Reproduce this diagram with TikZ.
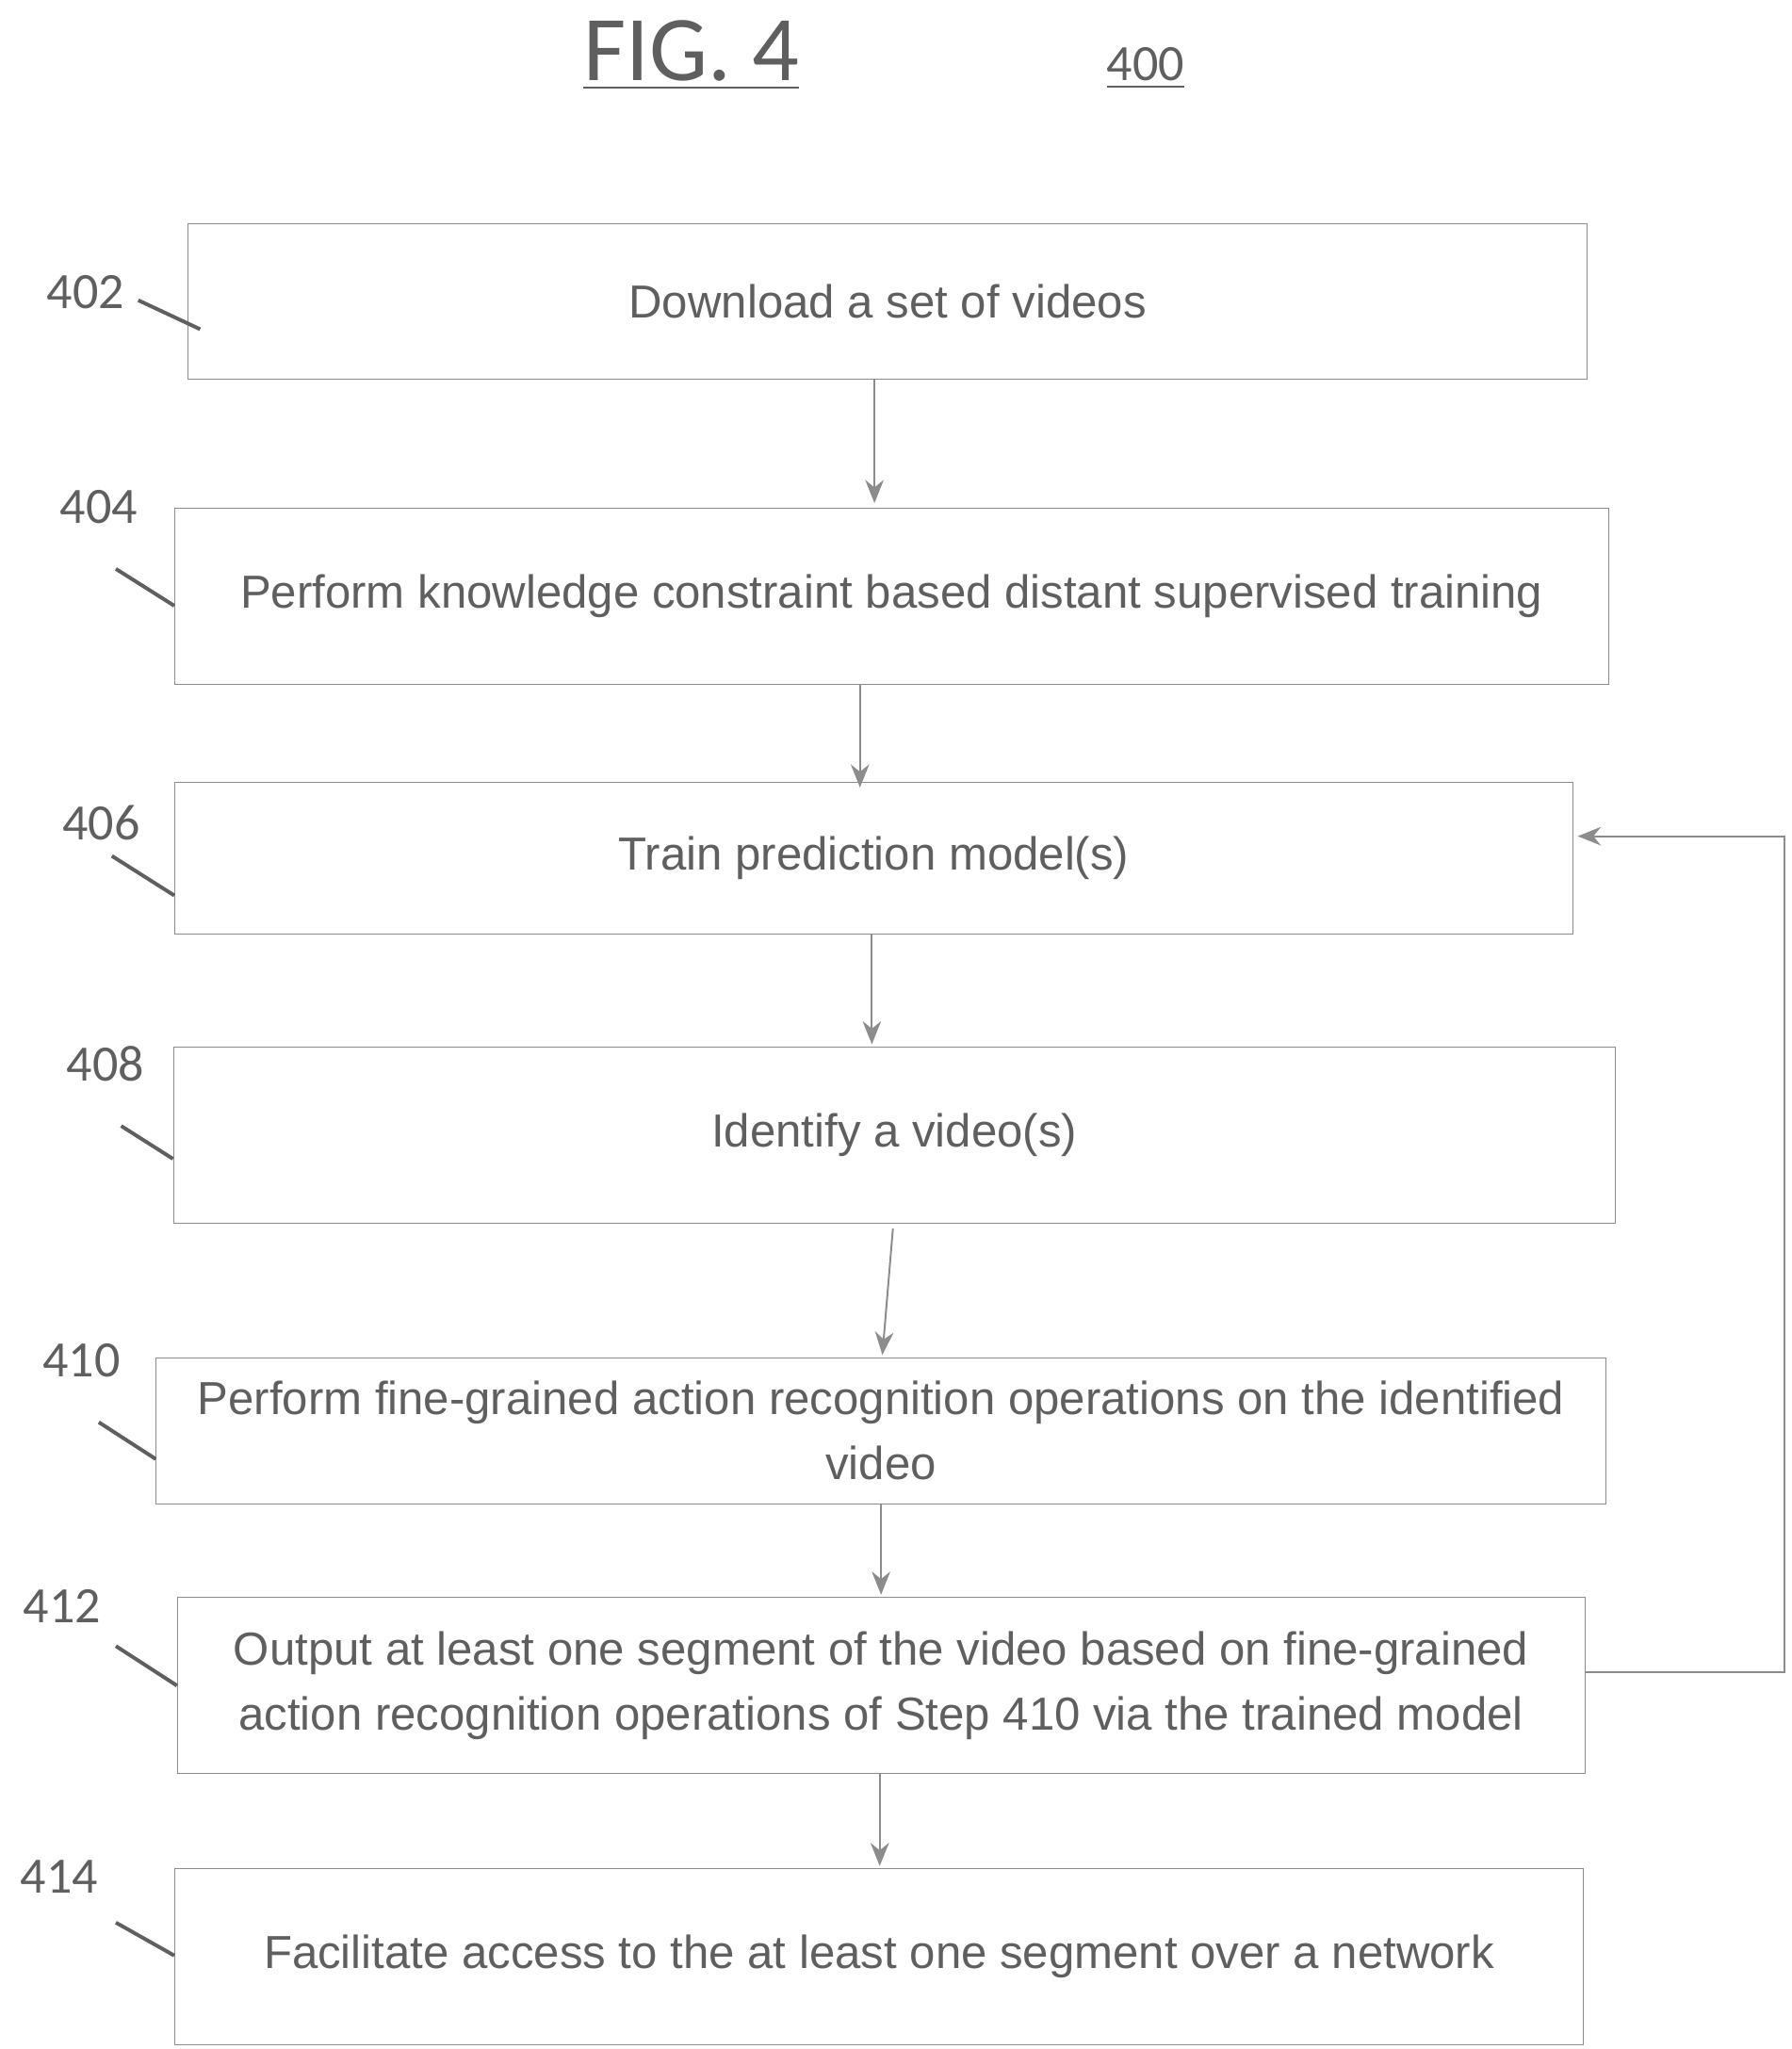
\documentclass[tikz,border=0pt]{standalone}
\usepackage{fontspec}
\setmainfont{Liberation Sans}
\newfontfamily\labelfont{Carlito}
\usetikzlibrary{positioning,calc,arrows.meta}
\definecolor{inkgray}{RGB}{95,95,95}
\definecolor{linegray}{RGB}{140,140,140}

\begin{document}
\begin{tikzpicture}[x=0.01cm, y=-0.01cm,
    stepbox/.style={rectangle, draw=linegray, very thin, text=inkgray, align=center, font=\fontsize{10}{14}\selectfont, inner sep=0pt},
    ref/.style={text=inkgray, font=\labelfont\fontsize{11}{13}\selectfont},
    tick/.style={draw=inkgray, thick},
    arrow/.style={-{Stealth[length=5pt,width=4pt]}, draw=linegray, thin}]
    \useasboundingbox (0,0) rectangle (1360,1556);

    % title
    \node[text=inkgray, font=\labelfont\fontsize{20}{24}\selectfont] (fig) at (525,42) {\underline{FIG. 4}};
    \node[ref] (num) at (870,52) {\underline{400}};

    % steps
    \node[stepbox, minimum width=10.62cm, minimum height=1.18cm] (s402) at (674,229) {Download a set of videos};
    \node[stepbox, minimum width=10.88cm, minimum height=1.34cm] (s404) at (677,453) {Perform knowledge constraint based distant supervised training};
    \node[stepbox, minimum width=10.61cm, minimum height=1.15cm] (s406) at (663.5,651.5) {Train prediction model(s)};
    \node[stepbox, minimum width=10.94cm, minimum height=1.34cm] (s408) at (679,862) {Identify a video(s)};
    \node[stepbox, minimum width=11.00cm, minimum height=1.11cm] (s410) at (669,1086.5) {Perform fine-grained action recognition operations on the identified\\video};
    \node[stepbox, minimum width=10.68cm, minimum height=1.34cm] (s412) at (669,1280) {Output at least one segment of the video based on fine-grained\\action recognition operations of Step 410 via the trained model};
    \node[stepbox, minimum width=10.69cm, minimum height=1.34cm] (s414) at (667.5,1486) {Facilitate access to the at least one segment over a network};

    % reference numbers
    \node[ref] (r402) at (65,222) {402};
    \node[ref] (r404) at (75,385) {404};
    \node[ref] (r406) at (77,625) {406};
    \node[ref] (r408) at (80,808) {408};
    \node[ref] (r410) at (62,1033) {410};
    \node[ref] (r412) at (47,1220) {412};
    \node[ref] (r414) at (45,1425) {414};
    \draw[tick] (105,228) -- (152,250);
    \draw[tick] (88,432) -- (s404.west |- 0,460);
    \draw[tick] (85,650) -- (s406.west |- 0,680);
    \draw[tick] (92,855) -- (s408.west |- 0,880);
    \draw[tick] (75,1080) -- (s410.west |- 0,1108);
    \draw[tick] (88,1250) -- (s412.west |- 0,1280);
    \draw[tick] (88,1460) -- (s414.west |- 0,1485);

    % flow
    \draw[arrow] (664,288) -- (664,382);
    \draw[arrow] (653,520) -- (653,598);
    \draw[arrow] (662,709) -- (662,793);
    \draw[arrow] (678,933) -- (670,1029);
    \draw[arrow] (669,1142) -- (669,1211);
    \draw[arrow] (668,1347) -- (668,1417);
    \coordinate (loop) at (1355,1270);
    \draw[arrow] (s412.east |- loop) -- (loop) |- (1198,635);
\end{tikzpicture}
\end{document}
